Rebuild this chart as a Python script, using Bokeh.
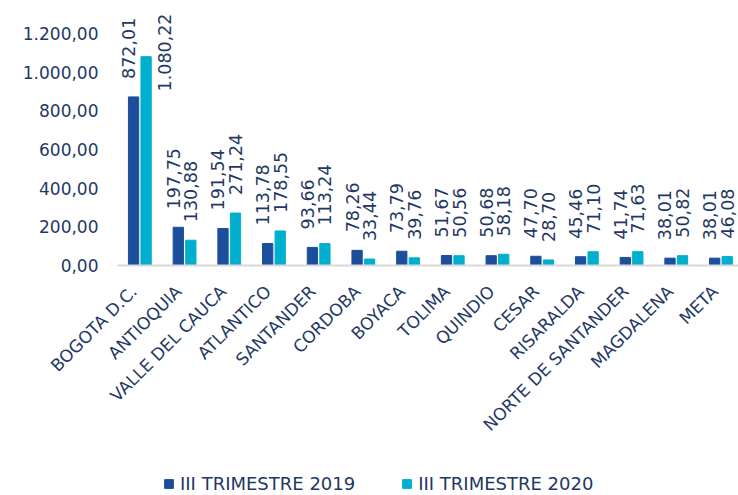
import math
from bokeh.plotting import figure
from bokeh.models import ColumnDataSource, Range1d, FixedTicker, Legend, LegendItem
from bokeh.transform import dodge
from bokeh.core.properties import value
from bokeh.embed import file_html
from bokeh.resources import INLINE

categories = ["BOGOTA D.C.", "ANTIOQUIA", "VALLE DEL CAUCA", "ATLANTICO", "SANTANDER",
              "CORDOBA", "BOYACA", "TOLIMA", "QUINDIO", "CESAR", "RISARALDA",
              "NORTE DE SANTANDER", "MAGDALENA", "META"]
series_names = ["III TRIMESTRE 2019", "III TRIMESTRE 2020"]
values_2019 = [872.01, 197.75, 191.54, 113.78, 93.66, 78.26, 73.79, 51.67, 50.68, 47.70,
               45.46, 41.74, 38.01, 38.01]
values_2020 = [1080.22, 130.88, 271.24, 178.55, 113.24, 33.44, 39.76, 50.56, 58.18, 28.70,
               71.10, 71.63, 50.82, 46.08]
y_ticks = [0, 200, 400, 600, 800, 1000, 1200]


def fmt(v):
    s = f"{v:,.2f}"
    return s.replace(",", "#").replace(".", ",").replace("#", ".")


FONT = "DejaVu Sans"
TEXT = "#1F3864"
DARK = "#1C4E9C"
LIGHT = "#00AFCD"

W, H = 738, 495
PLOT_LEFT = 117      # px where the category axis starts
PLOT_TOP = 12        # px of the top of the plotting area
ZERO_Y = 265         # px of the value axis baseline
CAT_PX = 44.7        # px per category
PX_PER_UNIT = 232 / 1200.0
LABEL_SIZE = 17.5
LABEL_GAP = 18

x_start = -0.5 - PLOT_LEFT / CAT_PX
x_end = -0.5 + (W - PLOT_LEFT) / CAT_PX
y_end = ZERO_Y / PX_PER_UNIT
y_start = -(H - ZERO_Y) / PX_PER_UNIT
y_plot_top = (ZERO_Y - PLOT_TOP) / PX_PER_UNIT

p = figure(width=W, height=H, output_backend="svg", toolbar_location=None,
           x_range=Range1d(x_start, x_end), y_range=Range1d(y_start, y_end),
           min_border_left=0, min_border_right=0, min_border_top=0,
           min_border_bottom=0)
p.outline_line_color = None
p.xgrid.visible = False
p.ygrid.visible = False

n = len(categories)
src = ColumnDataSource(dict(x=list(range(n)), v19=values_2019, v20=values_2020))
OFF = 0.14
BW = 0.23
r1 = p.vbar(x=dodge("x", -OFF), top="v19", width=BW, source=src, color=DARK)
r2 = p.vbar(x=dodge("x", OFF), top="v20", width=BW, source=src, color=LIGHT)


def text_px(t):
    return sum(0.318 if c in ",." else 0.636 for c in t) * LABEL_SIZE


for vals, off, xo in ((values_2019, -OFF, -5), (values_2020, OFF, 0)):
    normal = dict(x=[], y=[], t=[])
    over = dict(x=[], y=[], t=[])
    for i, v in enumerate(vals):
        t = fmt(v)
        if v * PX_PER_UNIT + LABEL_GAP + text_px(t) > ZERO_Y - PLOT_TOP:
            over["x"].append(i + off)
            over["y"].append(y_plot_top)
            over["t"].append(t)
        else:
            normal["x"].append(i + off)
            normal["y"].append(v)
            normal["t"].append(t)
    p.text(x="x", y="y", text="t", source=ColumnDataSource(normal), angle=math.pi / 2,
           text_align="left", text_baseline="middle", x_offset=xo, y_offset=-LABEL_GAP,
           text_font=value(FONT), text_font_size=f"{LABEL_SIZE}px", text_color=TEXT)
    p.text(x="x", y="y", text="t", source=ColumnDataSource(over), angle=math.pi / 2,
           text_align="right", text_baseline="middle", x_offset=18, y_offset=1,
           text_font=value(FONT), text_font_size=f"{LABEL_SIZE}px", text_color=TEXT)

# y axis, drawn at the left edge of the category area
p.yaxis.fixed_location = -0.5
p.yaxis.bounds = (0, 1200)
p.yaxis.ticker = FixedTicker(ticks=y_ticks)
p.yaxis.major_label_overrides = {t: fmt(t) for t in y_ticks}
p.yaxis.axis_line_color = None
p.yaxis.major_tick_line_color = None
p.yaxis.minor_tick_line_color = None
p.yaxis.major_tick_out = 0
p.yaxis.major_tick_in = 0
p.yaxis.major_label_standoff = 19
p.yaxis.major_label_text_font = FONT
p.yaxis.major_label_text_font_size = "17px"
p.yaxis.major_label_text_color = TEXT

# x axis at value 0 (label anchors nudged left of the group centre, as in the reference)
LABEL_SHIFT = -0.134
x_ticks = [i + LABEL_SHIFT for i in range(n)]
p.xaxis.fixed_location = 0
p.xaxis.bounds = (-0.5, x_end)
p.xaxis.ticker = FixedTicker(ticks=x_ticks)
p.xaxis.major_label_overrides = {t: c for t, c in zip(x_ticks, categories)}
p.xaxis.major_label_orientation = math.pi / 4
p.xaxis.axis_line_color = "#D9D9D9"
p.xaxis.axis_line_width = 2
p.xaxis.major_tick_line_color = None
p.xaxis.minor_tick_line_color = None
p.xaxis.major_tick_out = 0
p.xaxis.major_tick_in = 0
p.xaxis.major_label_standoff = 23
p.xaxis.major_label_text_font = FONT
p.xaxis.major_label_text_font_size = "17px"
p.xaxis.major_label_text_color = TEXT

legend = Legend(items=[LegendItem(label=series_names[0], renderers=[r1]),
                       LegendItem(label=series_names[1], renderers=[r2])],
                orientation="horizontal", location=(163, 1))
legend.padding = 0
legend.margin = 0
legend.border_line_color = None
legend.background_fill_alpha = 0
legend.label_text_font = FONT
legend.label_text_font_size = "18px"
legend.label_text_color = TEXT
legend.glyph_width = 11
legend.glyph_height = 11
legend.label_standoff = 6
legend.spacing = 46
p.add_layout(legend)

open("out.html", "w").write(file_html(p, INLINE))
